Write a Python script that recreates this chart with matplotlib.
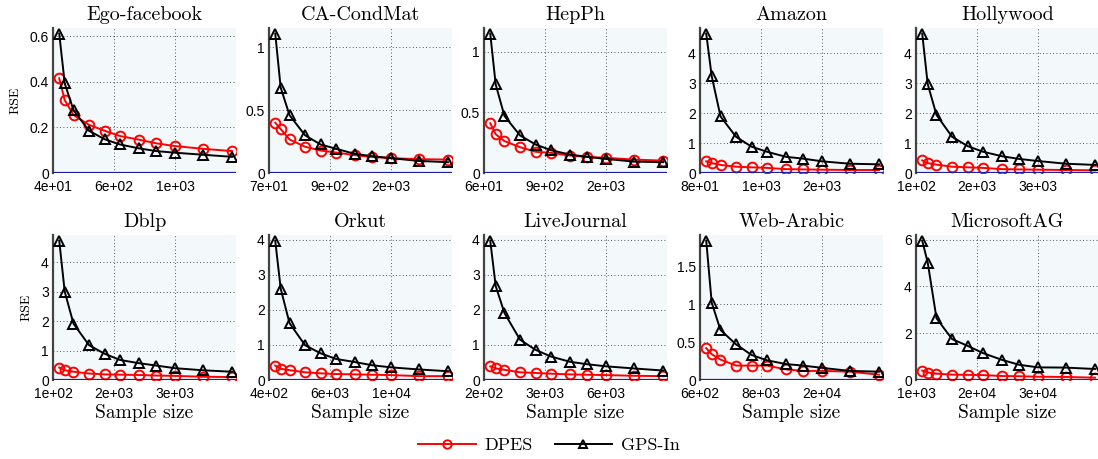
import matplotlib.pyplot as plt
import matplotlib.ticker as mticker
from matplotlib.lines import Line2D

titles = ['Ego-facebook', 'CA-CondMat', 'HepPh', 'Amazon', 'Hollywood',
          'Dblp', 'Orkut', 'LiveJournal', 'Web-Arabic', 'MicrosoftAG']

# sample sizes per dataset
sizes = [
    [93, 140, 215, 347, 480, 611, 773, 920, 1080, 1318, 1566],
    [154, 227, 346, 555, 764, 970, 1226, 1457, 1711, 2085, 2476],
    [146, 221, 342, 556, 771, 982, 1244, 1481, 1741, 2124, 2525],
    [178, 264, 403, 647, 892, 1134, 1434, 1704, 2001, 2439, 2897],
    [253, 388, 604, 987, 1369, 1747, 2215, 2638, 3102, 3786, 4501],
    [253, 388, 604, 987, 1369, 1747, 2215, 2638, 3102, 3786, 4501],
    [971, 1475, 2282, 3710, 5138, 6549, 8296, 9875, 11606, 14159, 16830],
    [496, 757, 1174, 1914, 2653, 3384, 4289, 5107, 6003, 7325, 8709],
    [1365, 2040, 3120, 5033, 6945, 8835, 11175, 13290, 15608, 19028, 22605],
    [2530, 3880, 6040, 9865, 13690, 17470, 22150, 26380, 31015, 37855, 45010],
]

dpes = [
    [0.415, 0.319, 0.254, 0.211, 0.185, 0.162, 0.146, 0.130, 0.118, 0.106, 0.096],
    [0.40, 0.35, 0.267, 0.209, 0.179, 0.163, 0.142, 0.128, 0.118, 0.110, 0.107],
    [0.41, 0.32, 0.263, 0.213, 0.175, 0.166, 0.144, 0.133, 0.125, 0.111, 0.102],
    [0.39, 0.33, 0.27, 0.21, 0.19, 0.17, 0.13, 0.12, 0.11, 0.10, 0.10],
    [0.42, 0.33, 0.28, 0.21, 0.19, 0.17, 0.13, 0.12, 0.11, 0.10, 0.09],
    [0.42, 0.33, 0.28, 0.22, 0.19, 0.18, 0.17, 0.15, 0.14, 0.11, 0.10],
    [0.41, 0.32, 0.28, 0.22, 0.19, 0.17, 0.16, 0.15, 0.14, 0.11, 0.11],
    [0.39, 0.33, 0.29, 0.22, 0.20, 0.18, 0.16, 0.15, 0.14, 0.12, 0.11],
    [0.42, 0.34, 0.27, 0.19, 0.19, 0.19, 0.14, 0.12, 0.12, 0.11, 0.07],
    [0.40, 0.32, 0.27, 0.23, 0.22, 0.21, 0.17, 0.16, 0.14, 0.13, 0.10],
]

gps_in = [
    [0.611, 0.393, 0.275, 0.185, 0.148, 0.125, 0.108, 0.096, 0.089, 0.080, 0.071],
    [1.11, 0.68, 0.46, 0.30, 0.227, 0.193, 0.152, 0.134, 0.118, 0.096, 0.086],
    [1.15, 0.73, 0.47, 0.31, 0.235, 0.188, 0.152, 0.133, 0.116, 0.094, 0.089],
    [4.66, 3.24, 1.89, 1.21, 0.88, 0.71, 0.54, 0.48, 0.39, 0.31, 0.29],
    [4.66, 2.97, 1.94, 1.21, 0.90, 0.71, 0.56, 0.47, 0.40, 0.31, 0.27],
    [4.73, 3.00, 1.91, 1.18, 0.89, 0.68, 0.57, 0.49, 0.40, 0.33, 0.28],
    [3.97, 2.60, 1.62, 0.99, 0.76, 0.60, 0.51, 0.42, 0.36, 0.30, 0.25],
    [3.98, 2.68, 1.91, 1.15, 0.86, 0.67, 0.52, 0.45, 0.39, 0.33, 0.27],
    [1.84, 1.02, 0.66, 0.47, 0.33, 0.26, 0.21, 0.19, 0.16, 0.12, 0.11],
    [5.96, 5.02, 2.64, 1.75, 1.46, 1.15, 0.86, 0.65, 0.54, 0.53, 0.47],
]

# x tick start / step
tick_start = [40, 70, 60, 80, 100, 100, 400, 200, 600, 1000]
tick_step = [520, 820, 840, 960, 1500, 1500, 5600, 2900, 7500, 15000]

yticks = [
    [0, 0.2, 0.4, 0.6], [0, 0.5, 1], [0, 0.5, 1], [0, 1, 2, 3, 4], [0, 1, 2, 3, 4],
    [0, 1, 2, 3, 4], [0, 1, 2, 3, 4], [0, 1, 2, 3, 4], [0, 0.5, 1, 1.5], [0, 2, 4, 6],
]

W, H = 1098, 459
fig = plt.figure(figsize=(W / 100, H / 100), dpi=100)

lefts = [53, 269, 484, 700, 916]
ax_w = 183
row_top = [28, 235]
ax_h = 145
serif = 'cmr10'
tick_font = 'Liberation Sans'

for i, name in enumerate(titles):
    r, c = divmod(i, 5)
    ax = fig.add_axes([lefts[c] / W, 1 - (row_top[r] + ax_h) / H, ax_w / W, ax_h / H])
    ax.set_facecolor('#f3f8fb')
    x0, st = tick_start[i], tick_step[i]

    ax.plot(sizes[i], dpes[i], color='red', lw=1.4, marker='o', ms=7,
            mfc='none', mec='red', mew=1.4, zorder=3)
    ax.plot(sizes[i], gps_in[i], color='black', lw=1.4, marker='^', ms=7.5,
            mfc='none', mec='black', mew=1.4, zorder=4)
    ax.axhline(0, color='#1c1ca8', lw=1.6, zorder=5)

    ax.set_xlim(x0, x0 + 3 * st)
    ax.set_ylim(0, max(gps_in[i]) * 1.04)
    ax.set_xticks([x0, x0 + st, x0 + 2 * st])
    ax.xaxis.set_major_formatter(mticker.FuncFormatter(lambda v, p: '%.0e' % v))
    ax.set_yticks(yticks[i])
    ax.yaxis.set_major_formatter(mticker.FuncFormatter(lambda v, p: '%g' % v))
    ax.grid(True, color='#222222', ls=(0, (1, 3)), lw=0.6)
    ax.set_axisbelow(True)
    ax.tick_params(length=0, labelsize=10)
    ax.tick_params(axis='x', pad=5)
    ax.tick_params(axis='y', pad=3)
    for lab in ax.get_xticklabels() + ax.get_yticklabels():
        lab.set_fontfamily(tick_font)
    for s in ['top', 'right', 'bottom']:
        ax.spines[s].set_visible(False)
    ax.spines['left'].set_color('#444444')
    ax.spines['left'].set_linewidth(1.6)

    ax.set_title(name, fontfamily=serif, fontsize=14.5, pad=6)
    if c == 0:
        ax.set_ylabel('RSE', fontfamily=serif, fontsize=10, labelpad=6)
    if r == 1:
        ax.set_xlabel('Sample size', fontfamily=serif, fontsize=14, labelpad=2)

handles = [
    Line2D([], [], color='red', lw=1.4, marker='o', ms=6, mfc='none', mew=1.4),
    Line2D([], [], color='black', lw=1.4, marker='^', ms=6, mfc='none', mew=1.4),
]
fig.legend(handles, ['DPES', 'GPS-In'], loc='center', bbox_to_anchor=(0.5, 1 - 445 / H),
           ncol=2, frameon=False, prop={'family': serif, 'size': 13},
           handlelength=3.2, columnspacing=1.2, handletextpad=0.5)

fig.savefig('out.png', dpi=100)
